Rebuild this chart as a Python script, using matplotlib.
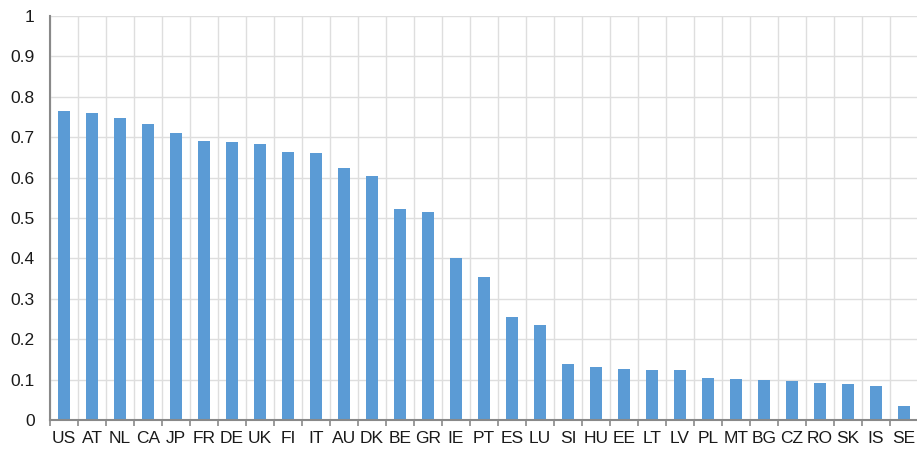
import numpy as np
import matplotlib
matplotlib.use("Agg")
import matplotlib.pyplot as plt

countries = ["US", "AT", "NL", "CA", "JP", "FR", "DE", "UK", "FI", "IT", "AU", "DK",
             "BE", "GR", "IE", "PT", "ES", "LU", "SI", "HU", "EE", "LT", "LV", "PL",
             "MT", "BG", "CZ", "RO", "SK", "IS", "SE"]
values = [0.765, 0.760, 0.748, 0.732, 0.711, 0.691, 0.687, 0.684, 0.664, 0.660, 0.624, 0.603,
          0.522, 0.515, 0.402, 0.353, 0.254, 0.236, 0.139, 0.131, 0.127, 0.125, 0.123, 0.104,
          0.101, 0.098, 0.097, 0.091, 0.089, 0.084, 0.035]
yticks = [0, 0.1, 0.2, 0.3, 0.4, 0.5, 0.6, 0.7, 0.8, 0.9, 1]
ytick_labels = ["0", "0.1", "0.2", "0.3", "0.4", "0.5", "0.6", "0.7", "0.8", "0.9", "1"]

plt.rcParams['font.family'] = ['Liberation Sans', 'DejaVu Sans']

fig = plt.figure(figsize=(9.17, 4.5), dpi=100)
ax = fig.add_axes([50 / 917, 30 / 450, 868 / 917, 404 / 450])

x = np.arange(len(countries))
ax.bar(x, values, width=0.4, color="#5B9BD5", zorder=3)

ax.set_xlim(-0.5, len(countries) - 0.5)
ax.set_ylim(0, 1)

ax.set_yticks(yticks)
ax.set_yticklabels(ytick_labels)
ax.set_xticks(x)
ax.set_xticklabels(countries)
ax.set_xticks(np.arange(-0.5, len(countries), 1), minor=True)

ax.tick_params(axis="y", length=0, pad=11, labelsize=12.5, labelcolor="#1a1a1a")
ax.tick_params(axis="x", which="major", length=0, pad=8, labelsize=12.5, labelcolor="#1a1a1a")
ax.tick_params(axis="x", which="minor", length=4, width=1.2, color="#898989")

ax.grid(True, axis="y", which="major", color="#dedede", linewidth=1, zorder=0)
ax.grid(True, axis="x", which="minor", color="#dedede", linewidth=1, zorder=0)
ax.grid(False, axis="x", which="major")

for s in ["top", "right"]:
    ax.spines[s].set_visible(False)
for s in ["left", "bottom"]:
    ax.spines[s].set_color("#898989")
    ax.spines[s].set_linewidth(1.5)
    ax.spines[s].set_zorder(4)

fig.savefig("out.png", dpi=100)
